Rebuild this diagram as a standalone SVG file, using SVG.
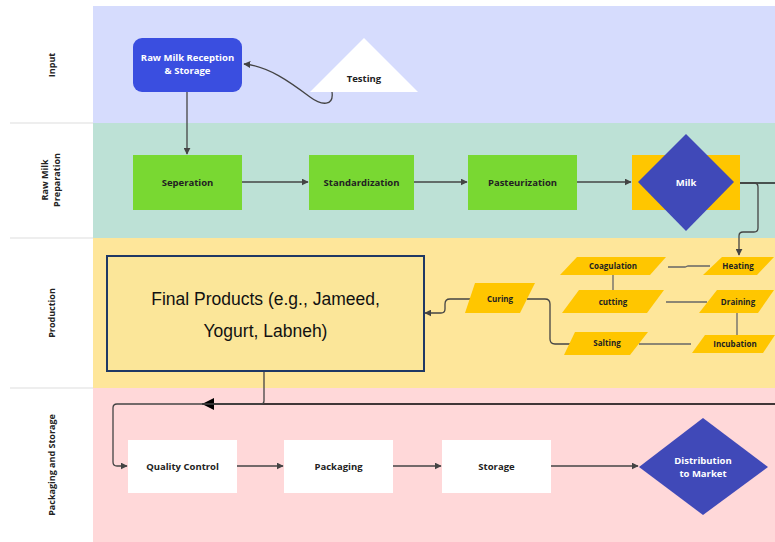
<svg xmlns="http://www.w3.org/2000/svg" width="775" height="542" viewBox="0 0 775 542">
<style>
.lbl{font-family:"Open Sans","Liberation Sans",sans-serif;font-size:9px;font-weight:bold;fill:#222;text-anchor:middle}
.t{font-family:"Open Sans","Liberation Sans",sans-serif;font-size:9.5px;font-weight:bold;fill:#222;text-anchor:middle}
.tw{font-family:"Open Sans","Liberation Sans",sans-serif;font-size:9.5px;font-weight:bold;fill:#fff;text-anchor:middle}
.ts{font-family:"Open Sans","Liberation Sans",sans-serif;font-size:8px;font-weight:bold;fill:#222;text-anchor:middle}
.green{fill:#79d832}
.white{fill:#fff}
.para{fill:#ffc600}
.c{fill:none;stroke:#444;stroke-width:1.3}
.cl{fill:none;stroke:#666;stroke-width:1.3}
</style>
<defs>
<marker id="a" viewBox="0 0 10 10" refX="9" refY="5" markerWidth="7" markerHeight="7" orient="auto" markerUnits="userSpaceOnUse">
<path d="M0,0 L10,5 L0,10 Z" fill="#444"/>
</marker>
<marker id="ab" viewBox="0 0 10 10" refX="10" refY="5" markerWidth="12" markerHeight="12" orient="auto" markerUnits="userSpaceOnUse">
<path d="M0,0 L10,5 L0,10 Z" fill="#000"/>
</marker>
</defs>
<rect width="775" height="542" fill="#fff"/>
<g id="lanes">
<rect x="93" y="6" width="682" height="117" fill="#d6dcfd"/>
<rect x="93" y="123" width="682" height="115" fill="#bde1d6"/>
<rect x="93" y="238" width="682" height="150" fill="#fee69a"/>
<rect x="93" y="388" width="682" height="154" fill="#ffd8d9"/>
<line x1="10" y1="123" x2="93" y2="123" stroke="#e8e8e8" stroke-width="1.5"/>
<line x1="10" y1="238" x2="93" y2="238" stroke="#e8e8e8" stroke-width="1.5"/>
<line x1="10" y1="388" x2="93" y2="388" stroke="#e8e8e8" stroke-width="1.5"/>
<text class="lbl" transform="translate(55,65) rotate(-90)">Input</text>
<text class="lbl" transform="translate(48,180) rotate(-90)">Raw Milk</text>
<text class="lbl" transform="translate(60,180) rotate(-90)">Preparation</text>
<text class="lbl" transform="translate(55,313) rotate(-90)">Production</text>
<text class="lbl" transform="translate(55,465) rotate(-90)">Packaging and Storage</text>
</g>
<g id="connectors">
<path class="c" d="M332,92 C334,106 322,106 310,97 C290,82 268,66 244,64" marker-end="url(#a)"/>
<path class="c" d="M187,92 V154" marker-end="url(#a)"/>
<path class="c" d="M242,182 H308" marker-end="url(#a)"/>
<path class="c" d="M414,182 H467" marker-end="url(#a)"/>
<path class="c" d="M577,182 H631" marker-end="url(#a)"/>
<path d="M740,183 H775" fill="none" stroke="#222" stroke-width="1.5"/>
<path class="c" d="M740,183 H754 Q758,183 758,187 V228 Q758,232 754,232 H743 Q739,232 739,236 V255" marker-end="url(#a)"/>
<path class="cl" d="M668,267 H685 L688,266 H710"/>
<path class="cl" d="M613,275 V290"/>
<path class="cl" d="M666,302 H707"/>
<path class="cl" d="M737,313 V335"/>
<path class="cl" d="M691,344 H639"/>
<path class="c" d="M573,344 H555 Q550,344 550,339 V304 Q550,299 545,299 H527"/>
<path class="c" d="M473,299 H450 Q445,299 445,304 V309 Q445,313 441,313 H425" marker-end="url(#a)"/>
<path d="M775,404 H202" fill="none" stroke="#000" stroke-width="1.3" marker-end="url(#ab)"/>
<path class="c" d="M264,372 V401 Q264,404 261,404 H117 Q113,404 113,408 V462 Q113,466 117,466 H127" marker-end="url(#a)"/>
<path class="c" d="M237,466 H283" marker-end="url(#a)"/>
<path class="c" d="M393,466 H441" marker-end="url(#a)"/>
<path class="c" d="M551,466 H638" marker-end="url(#a)"/>
</g>
<g id="raw-milk-reception">
<rect x="133" y="38" width="109" height="54" rx="9" fill="#3a4ee0"/>
<text class="tw" x="187.5" y="61">Raw Milk Reception</text>
<text class="tw" x="187.5" y="74">&amp; Storage</text>
</g>
<g id="testing">
<polygon points="364,38 418,92 310,92" fill="#fff"/>
<text class="t" x="364" y="82">Testing</text>
</g>
<g id="seperation">
<rect class="green" x="133" y="155" width="109" height="55"/>
<text class="t" x="187.5" y="186">Seperation</text>
</g>
<g id="standardization">
<rect class="green" x="309" y="155" width="105" height="55"/>
<text class="t" x="361.5" y="186">Standardization</text>
</g>
<g id="pasteurization">
<rect class="green" x="468" y="155" width="109" height="55"/>
<text class="t" x="522.5" y="186">Pasteurization</text>
</g>
<g id="milk">
<rect x="632" y="155" width="108" height="55" fill="#ffc600"/>
<polygon points="686,134 734,182 686,231 638,182" fill="#4049b8"/>
<text class="tw" x="686" y="186">Milk</text>
</g>
<g id="final-products">
<rect x="107" y="256" width="317" height="115" fill="#fbe699" stroke="#1f3864" stroke-width="2"/>
<text x="265.5" y="305" font-family="'Liberation Sans',Arial,sans-serif" font-size="17.5" fill="#111" text-anchor="middle">Final Products (e.g., Jameed,</text>
<text x="265.5" y="337" font-family="'Liberation Sans',Arial,sans-serif" font-size="17.5" fill="#111" text-anchor="middle">Yogurt, Labneh)</text>
</g>
<g id="coagulation">
<polygon class="para" points="577,257 666,257 650,275 560,275"/>
<text class="ts" x="613" y="269">Coagulation</text>
</g>
<g id="heating">
<polygon class="para" points="722,257 774,257 757,275 703,275"/>
<text class="ts" x="738" y="269">Heating</text>
</g>
<g id="cutting">
<polygon class="para" points="579,290 664,290 647,313 562,313"/>
<text class="ts" x="613" y="305">cutting</text>
</g>
<g id="draining">
<polygon class="para" points="717,290 774,290 758,313 699,313"/>
<text class="ts" x="738" y="305">Draining</text>
</g>
<g id="curing">
<polygon class="para" points="475,283 535,283 520,313 465,313"/>
<text class="ts" x="500" y="302">Curing</text>
</g>
<g id="salting">
<polygon class="para" points="575,332 648,332 630,355 564,355"/>
<text class="ts" x="607" y="346">Salting</text>
</g>
<g id="incubation">
<polygon class="para" points="705,335 775,335 763,353 692,353"/>
<text class="ts" x="735" y="347">Incubation</text>
</g>
<g id="quality-control">
<rect class="white" x="128" y="440" width="109" height="53"/>
<text class="t" x="182.5" y="470">Quality Control</text>
</g>
<g id="packaging">
<rect class="white" x="284" y="440" width="109" height="53"/>
<text class="t" x="338.5" y="470">Packaging</text>
</g>
<g id="storage">
<rect class="white" x="442" y="440" width="109" height="53"/>
<text class="t" x="496.5" y="470">Storage</text>
</g>
<g id="distribution">
<polygon points="703,418 768,467 703,515 639,467" fill="#4049b8"/>
<text class="tw" x="703" y="464">Distribution</text>
<text class="tw" x="703" y="477">to Market</text>
</g>
</svg>
